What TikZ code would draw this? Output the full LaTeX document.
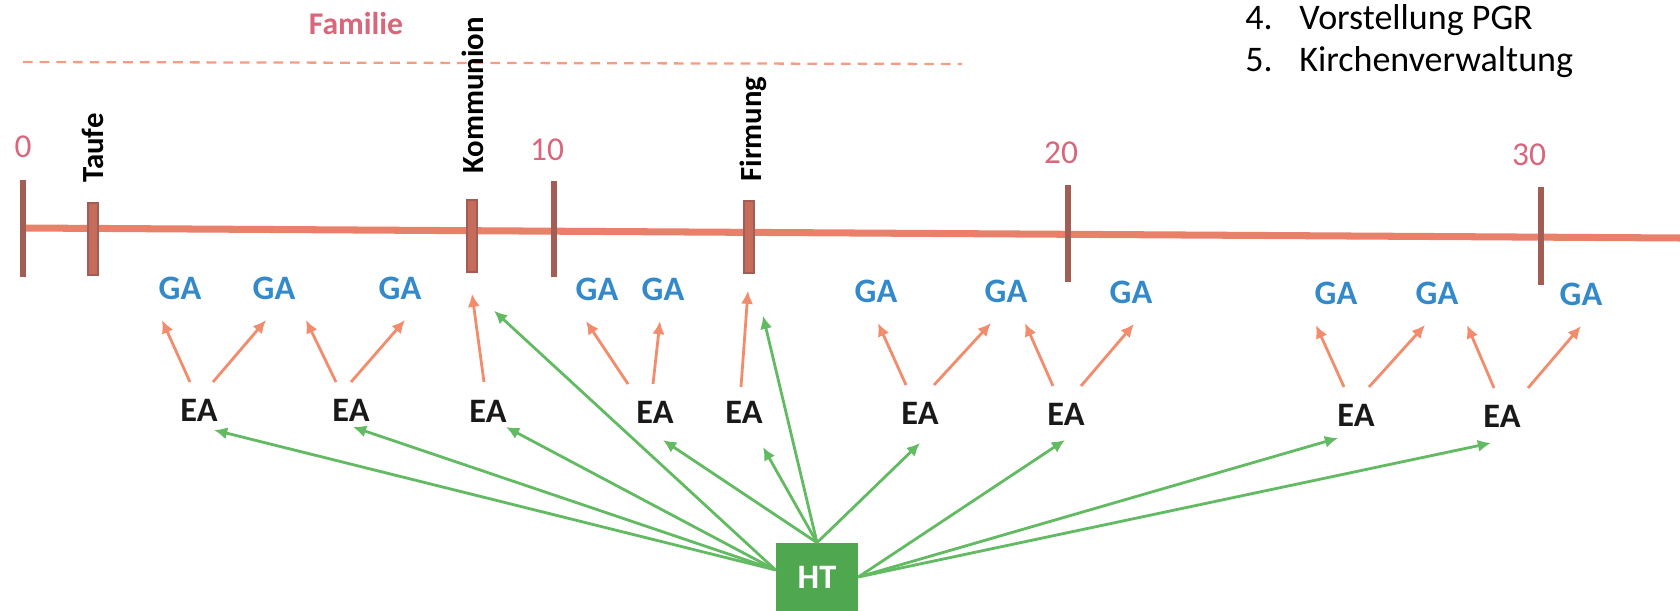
\documentclass[tikz,border=0pt]{standalone}
\usepackage{fontspec}
\setmainfont{Carlito}
\usepackage{tikz}
\usetikzlibrary{arrows.meta}

\definecolor{famred}{HTML}{D9667A}
\definecolor{gablue}{HTML}{3389CA}
\definecolor{lineorange}{HTML}{E8806A}
\definecolor{tickbrown}{HTML}{A25E55}
\definecolor{arroworange}{HTML}{F28C6C}
\definecolor{arrowgreen}{HTML}{62BA62}
\definecolor{htgreen}{HTML}{4FA84F}

\begin{document}
\begin{tikzpicture}[x=0.02cm, y=-0.02cm,
  num/.style={text=famred, font=\fontsize{19}{22}\selectfont, inner sep=0},
  ev/.style={rotate=90, anchor=west, font=\fontsize{17.5}{20}\selectfont\bfseries, inner sep=0},
  ga/.style={text=gablue, font=\fontsize{19.5}{22}\selectfont\bfseries, inner sep=0},
  ea/.style={text=black!90, font=\fontsize{19.5}{22}\selectfont\bfseries, inner sep=0},
  evtick/.style={draw=tickbrown, fill=lineorange!85!black, line width=0.8pt, minimum width=0.2cm, minimum height=1.44cm, inner sep=0},
  decade/.style={draw=tickbrown, line width=3.5pt},
  item/.style={font=\fontsize{20.5}{24}\selectfont, anchor=base west, inner sep=0},
  oarrow/.style={draw=arroworange, line width=1.6pt, -{Latex[length=7.5pt,width=7pt]}},
  garrow/.style={draw=arrowgreen, line width=1.6pt, -{Latex[length=7.5pt,width=7pt]}}
  ]
  \useasboundingbox (0,0) rectangle (1680,611);

  \node[text=famred, font=\fontsize{18}{22}\selectfont\bfseries] (familie) at (356,24) {Familie};
  \draw[arroworange!85, line width=1.3pt, dash pattern=on 5.5pt off 4pt] (23,62) -- (962,64);

  \node[item] (item4) at (1245,30) {\makebox[1.08cm][l]{4.}Vorstellung PGR};
  \node[item] (item5) at (1245,72) {\makebox[1.08cm][l]{5.}Kirchenverwaltung};

  \node[num] (n0) at (23,147) {0};
  \node[num] (n10) at (547,150) {10};
  \node[num] (n20) at (1061,153) {20};
  \node[num] (n30) at (1529,155) {30};

  \draw[lineorange, line width=4pt] (24,228) -- (1680,238);
  \foreach \x/\top/\bot in {23/180/277, 554/181/277, 1068/185/282, 1541/187/285}
    \draw[decade] (\x,\top) -- (\x,\bot);
  \node[evtick] (taufetick) at (93,239) {};
  \node[evtick] (komtick) at (472,236) {};
  \node[evtick] (firmtick) at (749,237) {};

  \node[ev] (taufe) at (93,183) {Taufe};
  \node[ev] (kommunion) at (473,174) {Kommunion};
  \node[ev] (firmung) at (753,182) {Firmung};

  \foreach \i/\x/\y in {1/180/288, 2/274/288, 3/400/288, 4/597/289, 5/663/289, 6/876/291,
                        7/1006/291, 8/1131/292, 9/1336/293, 10/1437/293, 11/1581/294}
    \node[ga] (ga\i) at (\x,\y) {GA};
  \foreach \i/\x/\y in {1/199/410, 2/351/410, 3/488/411, 4/655/412, 5/744/412,
                        6/920/413, 7/1066/414, 8/1356/415, 9/1502/416}
    \node[ea] (ea\i) at (\x,\y) {EA};

  \node[fill=htgreen, text=white, font=\fontsize{19.5}{22}\selectfont\bfseries,
        minimum width=1.64cm, minimum height=1.36cm, inner sep=0] (ht) at (817,577) {HT};

  \foreach \s/\sx/\e/\ex in {ea1/-9/ga1/-18, ea1/14/ga2/-8, ea2/-15/ga2/32, ea2/0/ga3/5,
                             ea4/-27/ga4/-11, ea4/-2/ga5/-3, ea6/-14/ga6/2, ea6/14/ga7/-15,
                             ea7/-13/ga7/19, ea7/15/ga8/3, ea8/-12/ga9/-20, ea8/13/ga10/-12,
                             ea9/-8/ga10/30, ea9/26/ga11/0}
    \draw[oarrow] ([shift={(\sx,-28)}]\s.center) -- ([shift={(\ex,32)}]\e.center);
  \draw[oarrow] ([shift={(-4,-29)}]ea3.center) -- ([shift={(0,21)}]komtick.south);
  \draw[oarrow] ([shift={(-3,-25)}]ea5.center) -- ([shift={(-1,17)}]firmtick.south);

  \foreach \e/\dx/\dy in {ea1/15/20, ea2/2/17, ea3/18/16}
    \draw[garrow] ([shift={(0,-7)}]ht.west) -- ([shift={(\dx,\dy)}]\e.center);
  \draw[garrow] ([shift={(0,-7)}]ht.west) -- ([shift={(22,38)}]komtick.south);
  \foreach \e/\dx/\dy in {ea4/8/28, ea5/19/35, ea6/0/30}
    \draw[garrow] (ht.north) -- ([shift={(\dx,\dy)}]\e.center);
  \draw[garrow] (ht.north) -- ([shift={(14,42)}]firmtick.south);
  \foreach \e/\dx/\dy in {ea7/-1/26, ea8/-18/23, ea9/-11/27}
    \draw[garrow] (ht.east) -- ([shift={(\dx,\dy)}]\e.center);
\end{tikzpicture}
\end{document}
